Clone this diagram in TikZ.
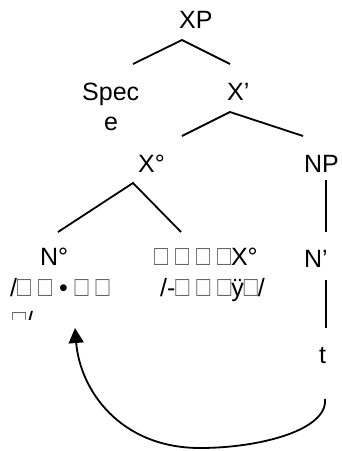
\documentclass[tikz,border=0pt]{standalone}
\usepackage{fontspec}
\usepackage{graphicx}
\setmainfont{Liberation Sans}
\usetikzlibrary{arrows.meta}
\newcommand{\tofu}{{\color{black!60}\resizebox{14pt}{17pt}{\char"25A1}}}
\begin{document}
\begin{tikzpicture}[x=1pt,y=-1pt,
  lab/.style={font=\fontsize{25}{31}\selectfont, inner sep=0pt, anchor=base west},
  edge/.style={line width=1.8pt}]
\useasboundingbox (0,0) rectangle (341,451);
% nodes
\node[lab] (xp) at (179,28) {XP};
\node[lab] (spec) at (82,100) {Spec};
\node[lab] (spece) at (104,130) {e};
\node[lab] (xbar) at (227,100) {X’};
\node[lab] (x0) at (138,172) {X°};
\node[lab] (np) at (304,172) {NP};
\node[lab] (n0) at (40,265) {N°};
\node[lab] (n0a) at (10,296) {/\tofu\ \tofu\ • \tofu\ \tofu};
\begin{scope}
\clip (0,300) rectangle (120,319);
\node[lab] (n0b) at (12,329) {\tofu/};
\end{scope}
\node[lab] (suf) at (154,265) {\tofu\ \tofu\ \tofu\ \tofu X°};
\node[lab] (sufa) at (160,296) {/-\tofu\ \tofu\ \tofu ÿ\tofu/};
\node[lab] (nbar) at (304,267) {N’};
\node[lab] (t) at (319,363) {t};
% connector end points
\coordinate (xpT) at (182,40);
\coordinate (xpL) at (133,64);
\coordinate (xpR) at (230,64);
\coordinate (xbT) at (230,112);
\coordinate (xbL) at (182,136);
\coordinate (xbR) at (303,136);
\coordinate (x0T) at (133,183);
\coordinate (x0L) at (58,232);
\coordinate (x0R) at (181,232);
\coordinate (npT) at (326,180);
\coordinate (npB) at (326,232);
\coordinate (nbT) at (326,280);
\coordinate (nbB) at (326,328);
\coordinate (arS) at (325,399);
\coordinate (arE) at (75,328);
% edges
\draw[edge] (xpL) -- (xpT) -- (xpR);
\draw[edge] (xbL) -- (xbT) -- (xbR);
\draw[edge] (x0L) -- (x0T) -- (x0R);
\draw[edge] (npT) -- (npB);
\draw[edge] (nbT) -- (nbB);
\draw[edge,-{Triangle[length=15pt,width=15pt]}] (arS) .. controls (328,430) and (260,448) .. (200,448)
  .. controls (120,448) and (80,390) .. (arE);
\end{tikzpicture}
\end{document}
